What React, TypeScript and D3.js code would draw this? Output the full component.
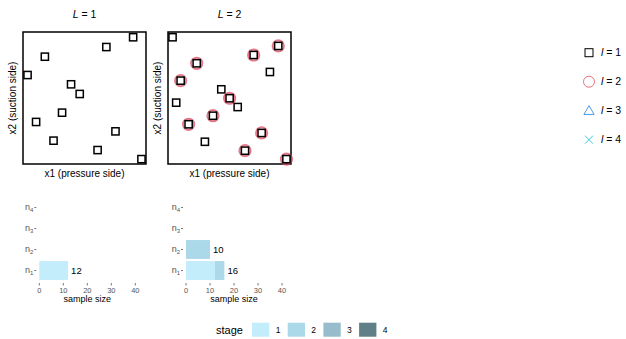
import React from "react";
import * as d3 from "d3";

const L1x = [0.927, 0.692, 0.152, 0.0, 0.382, 0.458, 0.303, 0.075, 0.772, 0.228, 0.615, 1.0];
const L1y = [0.997, 0.917, 0.838, 0.688, 0.612, 0.533, 0.38, 0.304, 0.227, 0.151, 0.074, 0.0];
const L1lev = [1, 1, 1, 1, 1, 1, 1, 1, 1, 1, 1, 1];

const L2x = [0.0, 0.928, 0.712, 0.212, 0.855, 0.071, 0.428, 0.501, 0.032, 0.572, 0.355, 0.141, 0.782, 0.284, 0.636, 1.0];
const L2y = [0.997, 0.926, 0.852, 0.784, 0.713, 0.642, 0.571, 0.498, 0.462, 0.426, 0.355, 0.285, 0.214, 0.142, 0.069, 0.0];
const L2lev = [1, 2, 2, 2, 1, 2, 1, 2, 1, 1, 2, 2, 2, 1, 2, 2];

const rows = ["n1", "n2", "n3", "n4"];
const bars1 = [{ row: "n1", stage: 1, start: 0, end: 12 }];
const bars2 = [
  { row: "n1", stage: 1, start: 0, end: 12 },
  { row: "n1", stage: 2, start: 12, end: 16 },
  { row: "n2", stage: 2, start: 0, end: 10 },
];
const totals1 = [{ row: "n1", total: 12 }];
const totals2 = [{ row: "n1", total: 16 }, { row: "n2", total: 10 }];
const xTicks = [0, 10, 20, 30, 40];
const stages = [1, 2, 3, 4];
const stageColors = ["#c3edfb", "#acd9ea", "#97bdcc", "#617f87"];
const levels = ["1", "2", "3", "4"];

const FONT = "'Liberation Sans', Arial, sans-serif";
const circleColor = "#dd4b62";

function Scatter({ x0, title, xs, ys, lev }: any) {
  const x1 = x0 + 123;
  const yTop = 32, yBot = 164;
  const sx = d3.scaleLinear().domain([-0.04, 1.04]).range([x0, x1]);
  const sy = d3.scaleLinear().domain([-0.04, 1.04]).range([yBot, yTop]);
  return (
    <g>
      <text x={(x0 + x1) / 2} y={18} textAnchor="middle" fontSize={10.5} fontFamily={FONT}>
        <tspan fontStyle="italic">L</tspan> = {title}
      </text>
      <rect x={x0} y={yTop} width={x1 - x0} height={yBot - yTop} fill="none" stroke="#000" strokeWidth={1.5} />
      {xs.map((v: number, i: number) => {
        const cx = sx(v), cy = sy(ys[i]);
        return (
          <g key={i}>
            {lev[i] >= 2 && (
              <circle cx={cx} cy={cy} r={5.6} fill="none" stroke={circleColor} strokeOpacity={0.75} strokeWidth={2} />
            )}
            <rect x={cx - 3.6} y={cy - 3.6} width={7.2} height={7.2} fill="none" stroke="#000" strokeWidth={1.5} />
          </g>
        );
      })}
      <text x={(x0 + x1) / 2} y={177} textAnchor="middle" fontSize={10} fontFamily={FONT}>x1 (pressure side)</text>
      <text transform={`translate(${x0 - 7},${(yTop + yBot) / 2}) rotate(-90)`} textAnchor="middle" fontSize={10} fontFamily={FONT}>
        x2 (suction side)
      </text>
    </g>
  );
}

function Bars({ x0, bars, totals }: any) {
  const sx = d3.scaleLinear().domain([0, 40]).range([x0, x0 + 96]);
  const sy = d3.scaleBand().domain(rows).range([281, 197]).paddingInner(0.1).paddingOuter(0.05);
  return (
    <g fontFamily={FONT}>
      {rows.map((r) => {
        const cy = (sy(r) as number) + sy.bandwidth() / 2;
        return (
          <g key={r}>
            <text x={x0 - 6} y={cy + 2.5} textAnchor="end" fontSize={9} fill="#555">
              n<tspan fontSize={6} dy={2}>{r.slice(1)}</tspan>
            </text>
            <line x1={x0 - 5} x2={x0 - 3} y1={cy} y2={cy} stroke="#555" strokeWidth={0.8} />
          </g>
        );
      })}
      {bars.map((b: any, i: number) => (
        <rect key={i} x={sx(b.start)} y={sy(b.row) as number} width={sx(b.end) - sx(b.start)} height={sy.bandwidth()} fill={stageColors[b.stage - 1]} />
      ))}
      {totals.map((t: any, i: number) => (
        <text key={i} x={sx(t.total) + 3} y={(sy(t.row) as number) + sy.bandwidth() / 2 + 3.5} fontSize={9.5} fill="#000">{t.total}</text>
      ))}
      {xTicks.map((t) => (
        <g key={t}>
          <line x1={sx(t)} x2={sx(t)} y1={283} y2={285.5} stroke="#555" strokeWidth={0.8} />
          <text x={sx(t)} y={292.5} textAnchor="middle" fontSize={7.5} fill="#555">{t}</text>
        </g>
      ))}
      <text x={sx(20)} y={302} textAnchor="middle" fontSize={9} fill="#000">sample size</text>
    </g>
  );
}

export default function App() {
  return (
    <svg width={626} height={339} style={{ position: "absolute", left: 0, top: 0 }}>
      <rect width={626} height={339} fill="#fff" />
      <Scatter x0={23} title="1" xs={L1x} ys={L1y} lev={L1lev} />
      <Scatter x0={168} title="2" xs={L2x} ys={L2y} lev={L2lev} />
      <Bars x0={39.3} bars={bars1} totals={totals1} />
      <Bars x0={186} bars={bars2} totals={totals2} />
      <g fontFamily={FONT}>
        {levels.map((l, i) => {
          const cy = 52.7 + i * 29;
          const cx = 589;
          return (
            <g key={l}>
              {i === 0 && <rect x={cx - 4} y={cy - 4} width={8} height={8} fill="none" stroke="#000" strokeWidth={1} />}
              {i === 1 && <circle cx={cx} cy={cy} r={5.5} fill="none" stroke="#e8707f" strokeWidth={1} />}
              {i === 2 && (
                <path d={d3.symbol().type(d3.symbolTriangle).size(45)() as string} transform={`translate(${cx},${cy + 0.8})`} fill="none" stroke="#4a9be8" strokeWidth={1} />
              )}
              {i === 3 && (
                <path d={`M${cx - 4},${cy - 4}L${cx + 4},${cy + 4}M${cx - 4},${cy + 4}L${cx + 4},${cy - 4}`} stroke="#3cc9e6" strokeWidth={1} />
              )}
              <text x={601} y={cy + 3.5} fontSize={10.5}>
                <tspan fontStyle="italic">l</tspan> = {l}
              </text>
            </g>
          );
        })}
      </g>
      <g fontFamily={FONT}>
        <text x={216} y={334} fontSize={11}>stage</text>
        {stages.map((s, i) => {
          const x = 252 + i * 35.7;
          return (
            <g key={s}>
              <rect x={x} y={322.7} width={17.3} height={14} fill={stageColors[i]} />
              <text x={x + 26} y={333} fontSize={8.5} textAnchor="middle">{s}</text>
            </g>
          );
        })}
      </g>
    </svg>
  );
}
